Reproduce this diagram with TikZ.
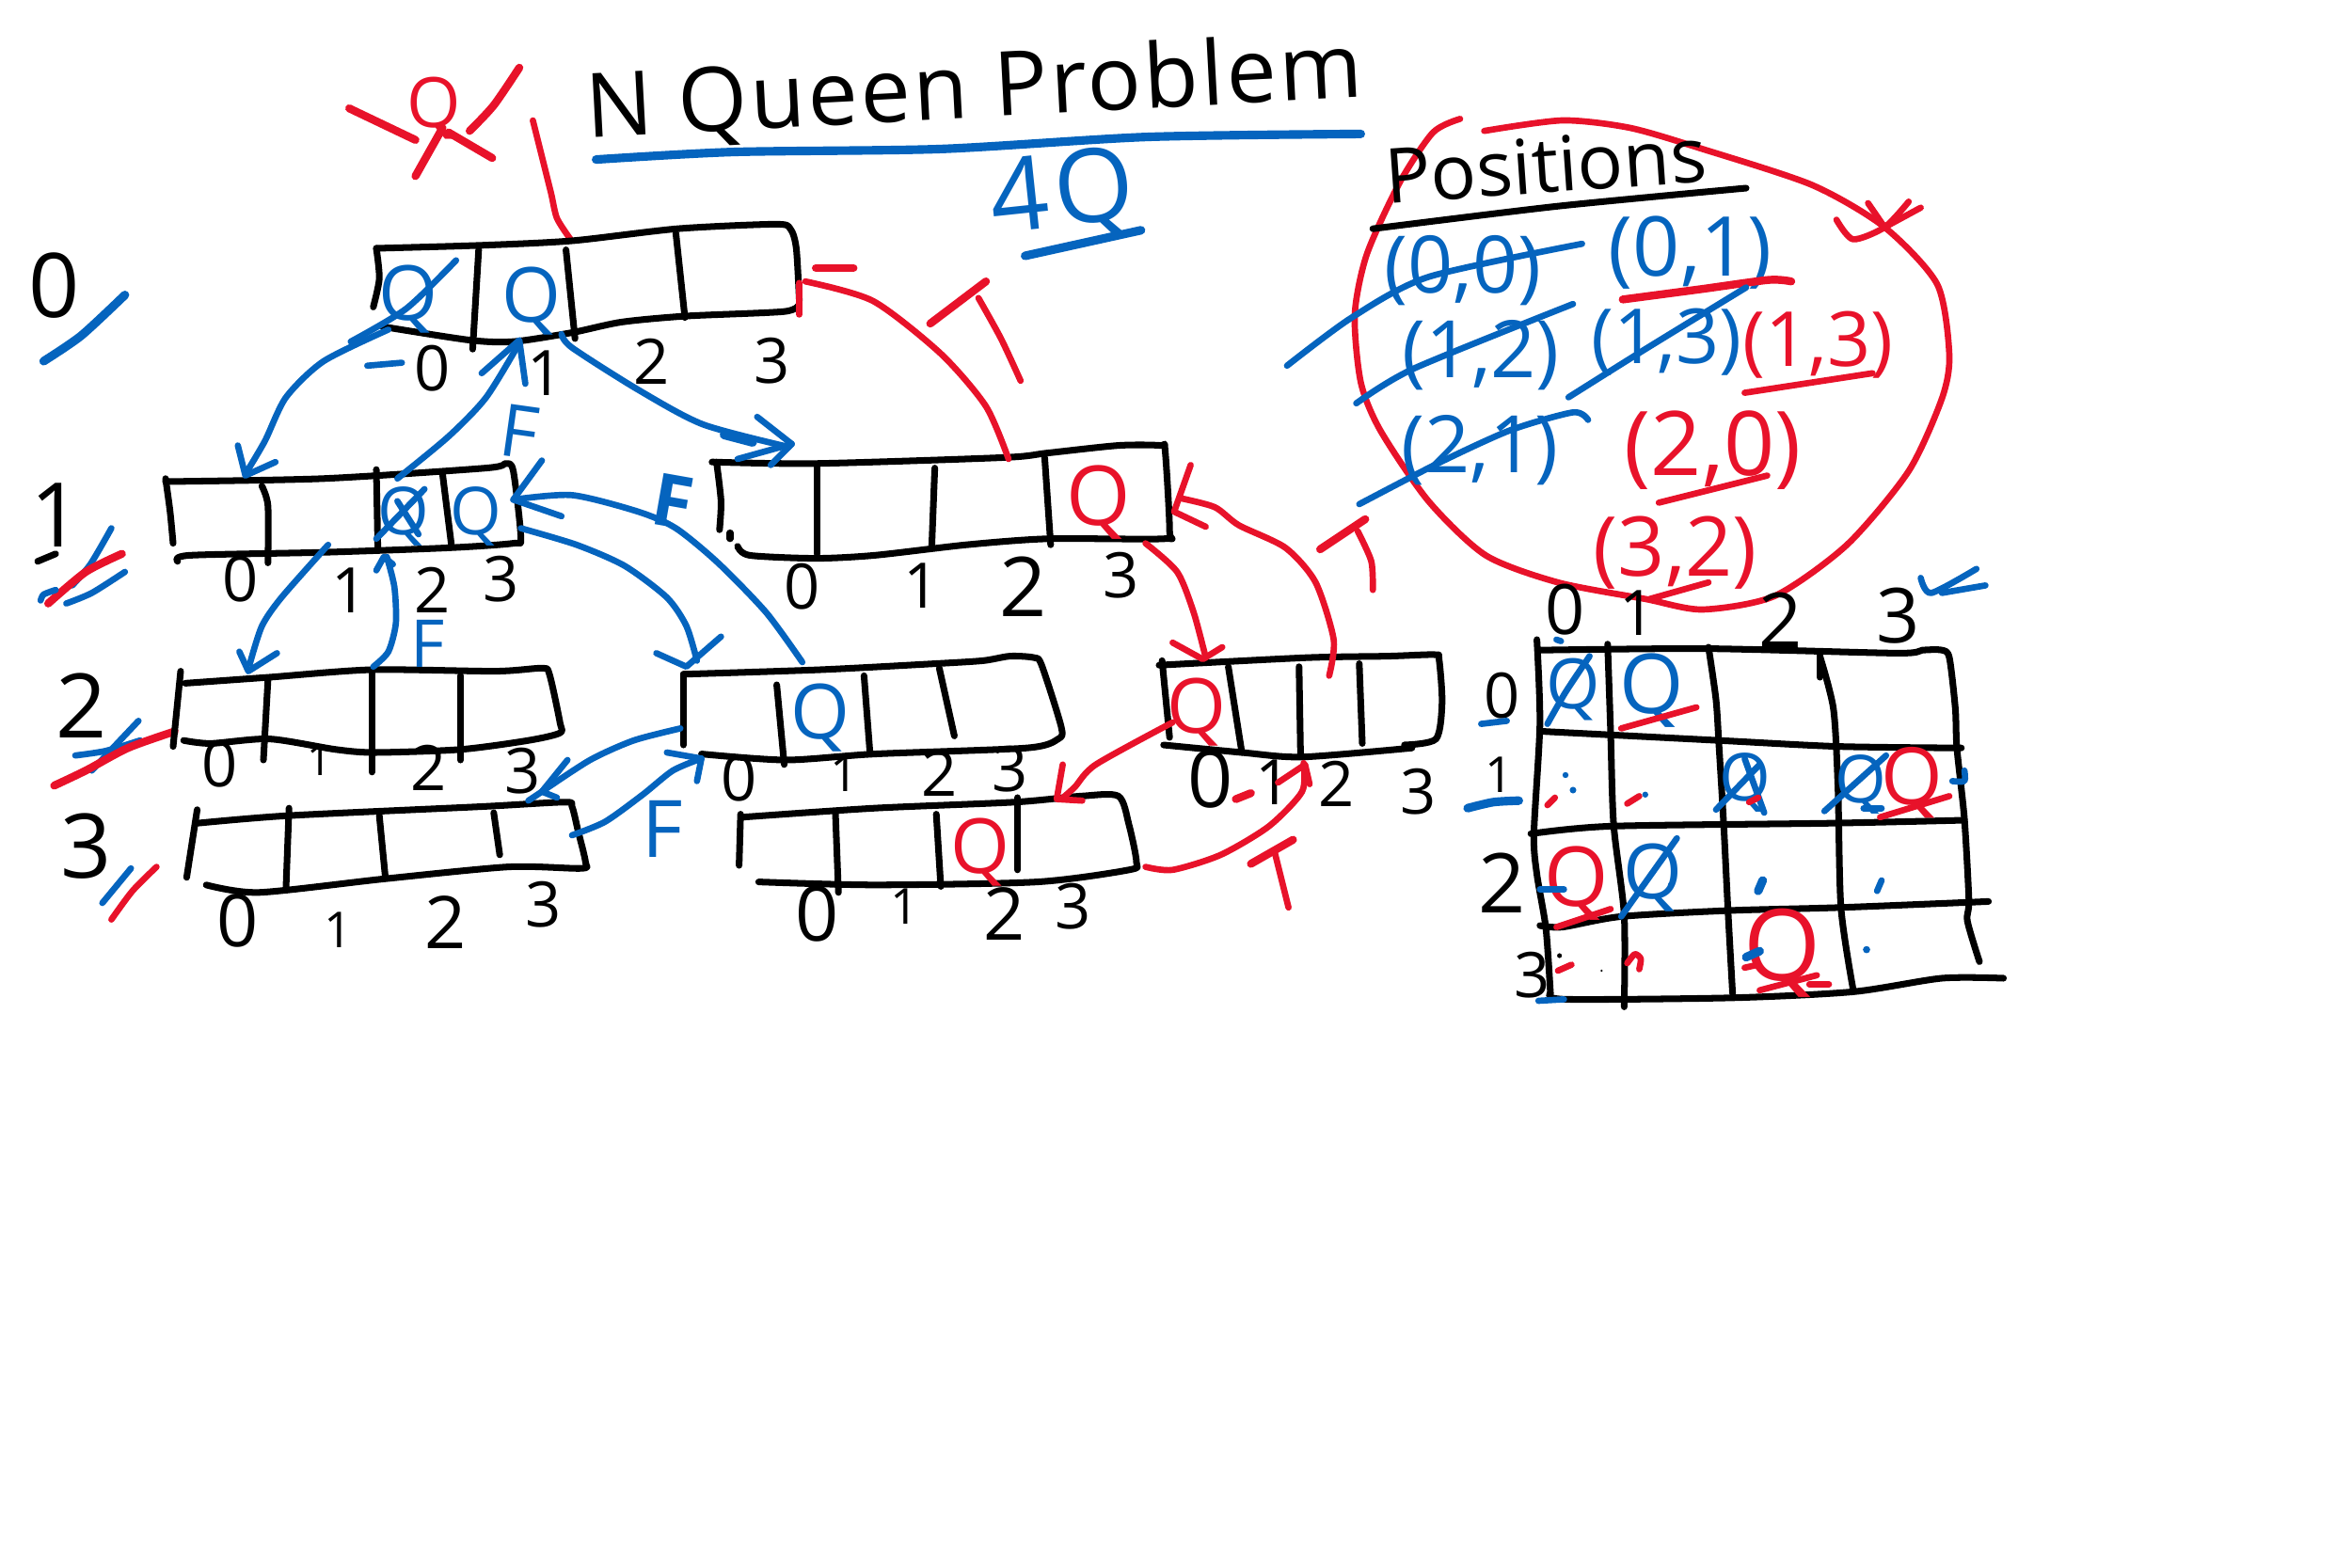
\documentclass[tikz,border=0pt]{standalone}
\usepackage{fontspec}
\setmainfont{Open Sans}
\definecolor{inkb}{RGB}{5,100,190}
\definecolor{inkr}{RGB}{232,18,42}
\newcommand{\stk}[2]{\draw[#1] plot[smooth,tension=.45] coordinates {#2};}
\newcommand{\fz}[1]{\fontsize{#1}{#1}\selectfont}
\tikzset{
 bk/.style={draw=black,line width=2pt,line cap=round,line join=round},
 bl/.style={draw=inkb,line width=1.9pt,line cap=round,line join=round},
 bt/.style={draw=inkb,line width=2.6pt,line cap=round,line join=round},
 rd/.style={draw=inkr,line width=1.9pt,line cap=round,line join=round},
 rt/.style={draw=inkr,line width=2.4pt,line cap=round,line join=round},
 txt/.style={inner sep=0pt,outer sep=0pt},
 ix/.style={txt,text=black,font=\fz{19}},
 lv/.style={txt,text=black,font=\fz{27}},
 qb/.style={txt,text=inkb,font=\fz{23}},
 qr/.style={txt,text=inkr,font=\fz{25}},
 fb/.style={txt,text=inkb,font=\fz{22}},
 pb/.style={txt,text=inkb,font=\fz{24}},
 pr/.style={txt,text=inkr,font=\fz{24}}
}
\begin{document}
\begin{tikzpicture}[x=0.016cm,y=-0.016cm]
\fill[white] (0,0) rectangle (1562.5,1041.875);
\useasboundingbox (0,0) rectangle (1562.5,1041.875);

% title
\node[txt,anchor=base,rotate=3,font=\fz{27}\addfontfeature{LetterSpace=3}] (title) at (648,78) {N Queen Problem};
\stk{bt}{(396,106)(487,101)(625,99)(762,91)(904,89)}
\node[txt,anchor=base,text=inkb,font=\fz{31}\addfontfeature{LetterSpace=6},rotate=6] (fourq) at (708,150) {4Q};
\stk{bt}{(681,170)(758,153)}

% red crossed queen, top left
\node[qr,font=\fz{21}] (qtop) at (288,72) {Q};
\stk{rt}{(232,72)(276,93)}
\stk{rt}{(345,45)(328,70)(312,87)}
\stk{rt}{(298,88)(327,105)}
\stk{rt}{(294,85)(276,117)}
\stk{rd}{(354,80)(359,100)(366,128)(370,145)(379,159)}

% level labels
\node[lv] (lv0) at (36,190) {0};
\stk{bt}{(83,196)(54,223)(29,240)}
\node[lv] (lv1) at (37,342) {1};
\stk{bk}{(25,373)(37,368)}
\stk{bl}{(74,351)(60,375)(48,389)}
\stk{rt}{(81,368)(57,380)(32,401)}
\stk{bl}{(83,380)(61,394)(44,401)}
\stk{bl}{(27,399)(29,395)(37,392)}
\node[lv] (lv2) at (54,469) {2};
\stk{bl}{(92,479)(75,497)(61,512)}
\stk{bl}{(50,502)(70,499)(93,492)}
\stk{rt}{(116,486)(85,497)(57,512)(36,522)}
\node[lv] (lv3) at (57,562) {3};
\stk{bl}{(87,577)(68,600)}
\stk{rd}{(104,576)(88,592)(74,611)}

% box A
\stk{bk}{(250,165)(320,163)(380,160)(450,152)(515,149)(525,152)(529,165)(531,200)}
\stk{bk}{(250,165)(252,185)(248,204)}
\stk{bk}{(254,217)(312,226)(341,227)(380,221)(413,214)(456,210)(521,207)(531,202)}
\stk{bk}{(318,166)(314,232)}
\stk{bk}{(376,166)(382,225)}
\stk{bk}{(449,155)(455,211)}
\node[ix] (a0) at (287,245) {0};
\node[ix] (a1) at (362,248) {1};
\node[ix] (a2) at (433,240) {2};
\node[ix] (a3) at (513,240) {3};
\node[qb] (aq0) at (271,199) {Q};
\node[qb] (aq1) at (353,200) {Q};
\stk{bl}{(303,173)(270,205)(233,227)}
\stk{bl}{(244,243)(267,241)}

% box B
\stk{bk}{(110,320)(215,318)(323,311)(336,308)(341,313)(346,357)(341,361)(298,364)(215,367)(126,369)(118,373)}
\stk{bk}{(110,318)(113,340)(115,361)}
\stk{bk}{(174,323)(178,336)(178,374)}
\stk{bk}{(250,312)(251,364)}
\stk{bk}{(294,315)(300,363)}
\node[ix] (b0) at (160,385) {0};
\node[ix] (b1) at (232,392) {1};
\node[ix] (b2) at (287,392) {2};
\node[ix] (b3) at (333,385) {3};
\node[qb,font=\fz{20}] (bq2) at (268,343) {Q};
\node[qb,font=\fz{20}] (bq3) at (316,343) {Q};
\stk{bl}{(282,325)(250,358)}
\stk{bl}{(264,333)(278,355)}

% box C
\stk{bk}{(473,307)(542,308)(667,304)(696,301)(743,296)(771,296)(774,299)(777,353)(773,358)(696,358)(642,362)(581,369)(542,371)(498,369)(490,363)}
\stk{bk}{(476,307)(479,333)(478,352)}
\stk{bk}{(485,354)(485,358)}
\stk{bk}{(543,310)(543,368)}
\stk{bk}{(621,311)(619,363)}
\stk{bk}{(694,304)(698,362)}
\node[ix] (c0) at (533,390) {0};
\node[ix] (c1) at (612,389) {1};
\node[ix,font=\fz{25}] (c2) at (680,390) {2};
\node[ix] (c3) at (745,382) {3};
\node[qr] (cq3) at (730,334) {Q};

% box D
\stk{bk}{(123,454)(179,450)(247,445)(329,446)(360,444)(365,448)(372,480)(372,487)(351,492)(306,498)(249,500)(223,498)(179,491)(140,494)(122,492)}
\stk{bk}{(120,446)(115,496)}
\stk{bk}{(178,452)(175,505)}
\stk{bk}{(247,446)(247,513)}
\stk{bk}{(306,449)(306,505)}
\node[ix] (d0) at (146,508) {0};
\node[ix,font=\fz{13}] (d1) at (212,505) {1};
\node[ix] (d2) at (285,510) {2};
\node[ix] (d3) at (347,512) {3};

% box E
\stk{bk}{(131,547)(191,542)(319,536)(375,533)(380,536)(384,552)(389,573)(386,577)(338,576)(255,584)(172,593)(137,588)}
\stk{bk}{(131,538)(124,583)}
\stk{bk}{(192,537)(190,590)}
\stk{bk}{(252,542)(256,583)}
\stk{bk}{(328,540)(332,568)}
\node[ix,font=\fz{22}] (e0) at (158,612) {0};
\node[ix,font=\fz{15}] (e1) at (225,618) {1};
\node[ix,font=\fz{22}] (e2) at (296,613) {2};
\node[ix] (e3) at (361,601) {3};

% box F
\stk{bk}{(454,448)(545,445)(621,441)(653,439)(671,436)(687,437)(692,442)(705,483)(703,491)(682,497)(581,501)(522,505)(466,501)}
\stk{bk}{(454,448)(454,495)}
\stk{bk}{(516,455)(521,508)}
\stk{bk}{(574,449)(578,501)}
\stk{bk}{(624,444)(634,489)}
\node[ix] (f0) at (491,517) {0};
\node[ix,font=\fz{15}] (f1) at (561,514) {1};
\node[ix] (f2) at (624,514) {2};
\node[ix] (f3) at (671,511) {3};
\node[qb] (fq1) at (545,477) {Q};

% box G
\stk{bk}{(770,442)(868,437)(922,436)(953,435)(956,438)(958,467)(954,491)(933,495)}
\stk{bk}{(938,497)(865,503)(825,500)(773,495)}
\stk{bk}{(772,439)(777,490)}
\stk{bk}{(816,443)(825,500)}
\stk{bk}{(863,443)(864,502)}
\stk{bk}{(903,441)(905,494)}
\node[ix,font=\fz{24}] (g0) at (804,518) {0};
\node[ix] (g1) at (846,520) {1};
\node[ix] (g2) at (888,521) {2};
\node[ix] (g3) at (942,526) {3};
\node[qr,font=\fz{23}] (gq0) at (795,473) {Q};

% box H
\stk{bk}{(493,543)(581,537)(674,533)(718,529)(743,529)(750,548)(755,573)(750,578)(689,586)(581,588)(504,586)}
\stk{bk}{(492,541)(491,575)}
\stk{bk}{(555,540)(557,593)}
\stk{bk}{(622,541)(625,589)}
\stk{bk}{(676,530)(676,578)}
\node[ix,font=\fz{23}] (h0) at (543,607) {0};
\node[ix,font=\fz{15}] (h1) at (601,602) {1};
\node[ix,font=\fz{22}] (h2) at (667,607) {2};
\node[ix] (h3) at (713,602) {3};
\node[qr,font=\fz{23}] (hq2) at (651,566) {Q};

% blue arrows
\stk{bl}{(258,219)(215,240)(190,264)(176,293)(163,315)}
\draw[bl] (158,296)--(163,316)--(183,307);
\stk{bl}{(264,318)(298,290)(323,264)(345,228)}
\draw[bl] (320,248)--(345,226)--(349,255);
\node[fb,rotate=-8] (fa) at (345,287) {F};
\stk{bl}{(373,222)(380,231)(424,259)(467,282)(524,297)}
\draw[bl] (503,277)--(526,295)--(512,309);
\stk{bl}{(490,305)(526,295)}
\stk{bt}{(481,289)(500,294)}
\stk{bl}{(218,362)(187,397)(174,416)(166,441)}
\draw[bl] (159,433)--(165,446)--(184,434);
\stk{bl}{(248,443)(258,433)(263,414)(262,390)(257,370)}
\draw[bl] (250,379)--(255,370)--(261,375);
\node[fb,font=\fz{20}] (fb2) at (284,428) {F};
\stk{bl}{(452,484)(421,492)(392,505)(360,526)}
\draw[bl] (377,505)--(360,526)--(351,532);
\stk{bl}{(360,526)(370,530)}
\stk{bl}{(380,555)(402,546)(427,528)(447,512)(466,504)}
\draw[bl] (443,500)--(466,504)--(463,519);
\node[fb,font=\fz{24}] (fe) at (440,551) {F};
\stk{bl}{(346,351)(383,362)(415,376)(443,397)(456,416)(463,439)}
\draw[bl] (436,434)--(456,443)--(479,423);
\stk{bl}{(533,440)(509,407)(477,374)(449,351)(424,340)(380,329)(341,332)}
\draw[bl] (360,306)--(341,332)--(373,343);
\node[fb,rotate=-10,font={\bfseries\fz{22}}] (ff) at (447,333) {F};

% red arrows
\stk{rd}{(670,305)(655,270)(625,235)(580,200)(535,187)}
\stk{rd}{(531,188)(531,209)}
\stk{rt}{(542,178)(567,178)}
\stk{rt}{(618,215)(655,187)}
\stk{rd}{(650,198)(665,225)(678,253)}
\stk{rd}{(761,361)(782,380)(793,407)(801,437)}
\draw[rd] (779,427)--(799,438)--(812,430);
\stk{rd}{(883,449)(886,425)(874,387)(854,364)(823,349)(807,337)(784,331)}
\draw[rd] (791,309)--(780,340)--(801,350);
\stk{rt}{(877,365)(907,345)}
\stk{rd}{(902,353)(911,373)(912,392)}
\stk{rd}{(779,480)(728,508)(714,523)(705,531)}
\draw[rd] (706,508)--(702,531)--(719,532);
\stk{rd}{(761,576)(779,578)(811,568)(843,549)(865,526)(866,507)}
\draw[rd] (849,520)--(867,508)--(870,521);
\stk{rt}{(821,531)(831,527)}
\stk{rt}{(831,574)(859,558)}
\stk{rd}{(847,567)(856,603)}

% positions
\stk{rd}{(970,79)(952,88)(930,121)(908,169)(900,209)(904,254)(917,286)(949,333)(987,369)(1035,387)(1093,398)(1131,405)(1179,396)(1227,362)(1268,313)(1290,265)(1295,236)(1287,189)(1252,151)(1204,123)(1131,99)(1083,85)(1038,80)(986,87)}
\stk{rd}{(1220,146)(1231,159)(1252,151)(1268,134)}
\stk{rd}{(1241,135)(1252,151)}
\stk{rd}{(1252,151)(1276,138)}
\node[txt,anchor=base,font=\fz{23},rotate=4] (pos) at (1028,128) {Positions};
\stk{bk}{(912,152)(1035,137)(1160,125)}
\node[pb] (p00) at (972,180) {(0,0)};
\stk{bl}{(855,243)(898,211)(949,184)(1051,162)}
\node[pb,font=\fz{25}] (p01) at (1123,168) {(0,1)};
\stk{rt}{(1078,199)(1131,192)(1175,186)(1190,187)}
\node[pb] (p12) at (984,236) {(1,2)};
\stk{bl}{(901,268)(939,245)(1045,202)}
\node[pb,font=\fz{23}] (p13b) at (1107,227) {(1,3)};
\stk{bl}{(1042,264)(1093,232)(1160,191)}
\node[pr,font=\fz{23}] (p13r) at (1208,229) {(1,3)};
\stk{rd}{(1159,261)(1244,248)}
\node[pb] (p21) at (983,299) {(2,1)};
\stk{bl}{(903,335)(955,308)(1003,286)(1045,274)(1055,279)}
\node[pr,font=\fz{27}] (p20) at (1138,299) {(2,0)};
\stk{rd}{(1102,334)(1174,316)}
\node[pr,font=\fz{25}] (p32) at (1113,367) {(3,2)};
\stk{rd}{(1096,398)(1135,387)}
\stk{bl}{(1276,384)(1283,394)(1313,378)}
\stk{bl}{(1290,394)(1319,389)}

% grid
\stk{bk}{(1023,432)(1134,431)(1260,434)(1277,432)(1290,432)(1295,437)(1299,471)(1300,497)(1305,544)(1308,598)(1307,612)(1315,639)}
\stk{bk}{(1025,486)(1142,492)(1221,496)(1303,497)}
\stk{bk}{(1017,554)(1070,549)(1216,547)(1305,545)}
\stk{bk}{(1023,615)(1038,616)(1077,609)(1149,605)(1223,603)(1321,599)}
\stk{bk}{(1030,660)(1040,664)(1151,663)(1231,659)(1290,650)(1331,650)}
\stk{bk}{(1021,425)(1023,481)(1019,554)(1021,581)(1027,617)(1030,660)}
\stk{bk}{(1068,428)(1070,487)(1072,548)(1079,608)(1079,669)}
\stk{bk}{(1135,430)(1140,465)(1142,496)(1145,546)(1148,606)(1151,660)}
\stk{bk}{(1209,436)(1218,471)(1221,523)(1223,603)(1231,657)}
\stk{bk}{(1209,436)(1209,450)}

\node[ix,font=\fz{21}] (gc0) at (1040,405) {0};
\node[ix] (gc1) at (1088,407) {1};
\node[ix,font=\fz{23}] (gc2) at (1183,412) {2};
\node[ix,font=\fz{23}] (gc3) at (1261,409) {3};
\node[ix] (gr0) at (998,462) {0};
\node[ix,font=\fz{15}] (gr1) at (996,515) {1};
\node[ix,font=\fz{25}] (gr2) at (998,587) {2};
\node[ix] (gr3) at (1018,648) {3};
\stk{bl}{(984,481)(1001,479)}
\stk{bt}{(975,537)(992,533)(1009,532)}
\stk{bl}{(1022,665)(1039,664)}
\stk{bl}{(1034,425)(1037,426)}

\node[qb,font=\fz{21}] (g00) at (1045,458) {Q};
\stk{bl}{(1056,436)(1040,460)(1028,481)}
\node[qb,font=\fz{25}] (g01) at (1097,459) {Q};
\stk{rd}{(1077,484)(1127,470)}
\node[qb,font=\fz{20}] (g12) at (1159,520) {Q};
\stk{bl}{(1169,508)(1140,538)}
\stk{bl}{(1159,504)(1172,540)}
\stk{rd}{(1162,533)(1168,530)}
\node[qb,font=\fz{20}] (g13) at (1236,521) {Q};
\stk{bl}{(1253,502)(1212,539)}
\stk{bl}{(1238,537)(1250,537)}
\node[qr,font=\fz{24}] (g13r) at (1270,520) {Q};
\stk{rd}{(1249,543)(1295,529)}
\node[qr,font=\fz{25}] (g20) at (1047,587) {Q};
\stk{bl}{(1023,591)(1039,591)}
\stk{rd}{(1034,616)(1070,604)}
\node[qb,font=\fz{23}] (g21) at (1098,583) {Q};
\stk{bl}{(1114,557)(1077,609)}
\node[qr,font=\fz{30}] (g32) at (1184,633) {Q};
\stk{rd}{(1169,658)(1207,648)}
\stk{rd}{(1202,654)(1215,654)}
\stk{rd}{(1159,643)(1168,641)}

% marks
\fill[inkb] (1040,515) circle (2);
\fill[inkb] (1045,525) circle (2.2);
\stk{rd}{(1028,535)(1033,530)}
\stk{rd}{(1081,534)(1089,529)}
\fill[inkb] (1093,528) circle (2);
\stk{bt}{(1171,585)(1168,592)}
\stk{bl}{(1250,585)(1247,592)}
\fill[inkb] (1110,588) circle (2);
\fill[inkb] (1240,631) circle (2.4);
\fill[black] (1036,635) circle (1.6);
\stk{rd}{(1035,645)(1044,641)}
\fill[black] (1064,645) circle (.8);
\stk{rd}{(1081,640)(1086,634)(1090,637)(1089,644)}
\stk{bt}{(1160,636)(1169,632)}
\stk{bl}{(1297,519)(1305,519)(1305,512)}
\end{tikzpicture}
\end{document}
